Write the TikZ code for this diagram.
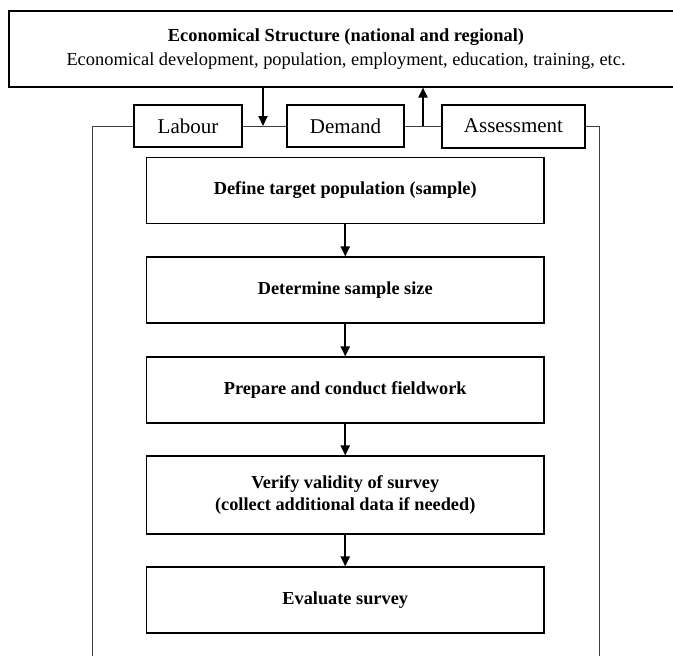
\documentclass[tikz,border=0pt]{standalone}
\usepackage{fontspec}
\setmainfont{Liberation Serif}
\usetikzlibrary{arrows.meta}
\begin{document}
\begin{tikzpicture}[x=1pt,y=-1pt,
  stepbox/.style={draw, line width=1.1pt, minimum width=397.5pt, inner sep=0pt, align=center, font=\fontsize{18.3}{22}\selectfont\bfseries},
  tagbox/.style={draw, line width=1.4pt, minimum height=42pt, inner sep=0pt, font=\fontsize{21}{24}\selectfont},
  flow/.style={line width=2pt, -{Triangle[length=10pt,width=9pt]}},
  framel/.style={line width=1pt, draw=black!75}]
\useasboundingbox (0,0) rectangle (673,656);
% top box
\node[draw, line width=1.1pt, minimum width=674pt, minimum height=76pt, inner sep=0pt, align=center,
  font=\fontsize{18.4}{24}\selectfont] (top) at (346,49)
  {\textbf{Economical Structure (national and regional)}\\Economical development, population, employment, education, training, etc.};
% tag boxes
\node[tagbox, minimum width=108pt] (labour) at (188,126) {Labour};
\node[tagbox, minimum width=117pt] (demand) at (345.5,126) {Demand};
\node[tagbox, minimum width=143pt, minimum height=43pt, line width=2pt] (assess) at (513.5,126) {Assessment};
% frame
\coordinate (fbl) at (92,660);
\coordinate (ftl) at (92,126);
\coordinate (ftr) at (599,126);
\coordinate (fbr) at (599,660);
\draw[framel] (fbl) -- (ftl) -- (labour.west);
\draw[framel] (labour.east) -- (demand.west);
\draw[framel] (demand.east) -- (assess.west);
\draw[framel] (assess.east) -- (ftr) -- (fbr);
% arrows between top and frame
\coordinate (dj) at (263,126);
\coordinate (uj) at (423,126);
\draw[flow] (top.south -| dj) -- (dj);
\draw[flow] (uj) -- (uj |- top.south);
% steps
\node[stepbox, minimum height=66pt] (s1) at (345.25,190.5) {Define target population (sample)};
\node[stepbox, minimum height=66pt] (s2) at (345.25,290) {Determine sample size};
\node[stepbox, minimum height=66pt] (s3) at (345.25,390) {Prepare and conduct fieldwork};
\node[stepbox, minimum height=78pt] (s4) at (345.25,495) {Verify validity of survey\\(collect additional data if needed)};
\node[stepbox, minimum height=66pt] (s5) at (345.25,600) {Evaluate survey};
\draw[flow] (s1) -- (s2);
\draw[flow] (s2) -- (s3);
\draw[flow] (s3) -- (s4);
\draw[flow] (s4) -- (s5);
\end{tikzpicture}
\end{document}
